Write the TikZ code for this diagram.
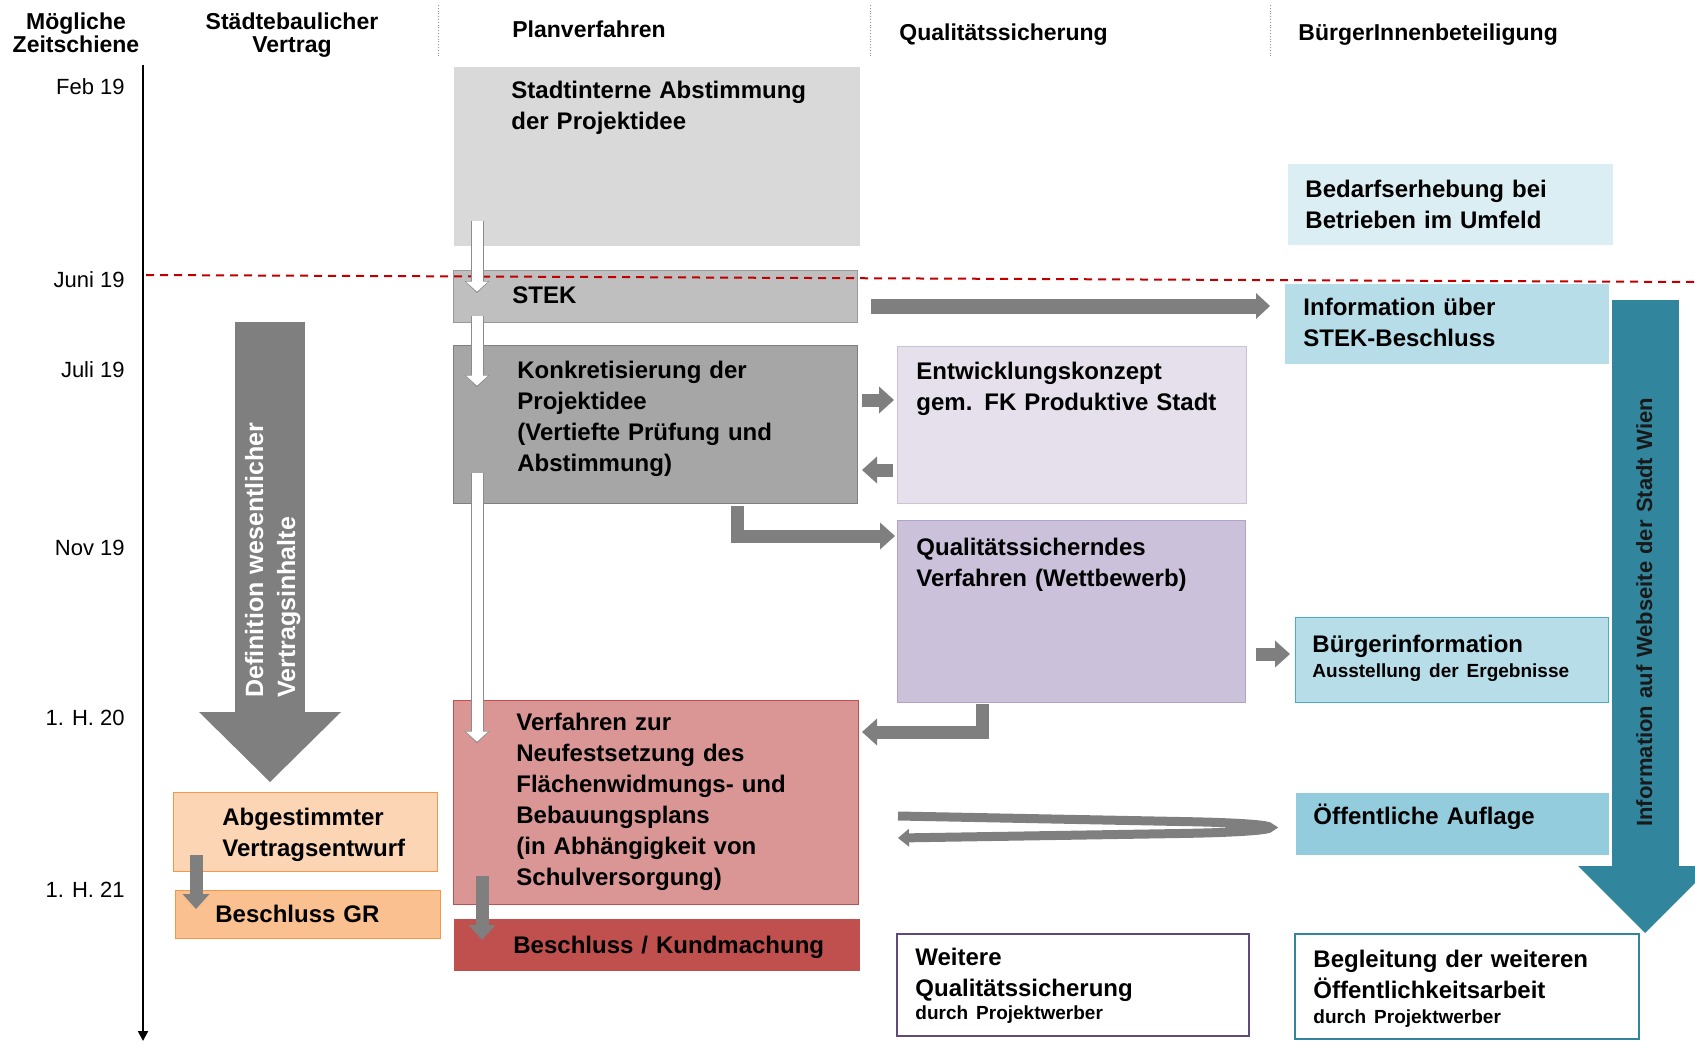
\documentclass[tikz,border=0pt]{standalone}
\usepackage{fontspec}
\setmainfont{Liberation Sans}
\usetikzlibrary{arrows.meta}

\definecolor{cStadt}{HTML}{D9D9D9}
\definecolor{cStek}{HTML}{BFBFBF}
\definecolor{cKonk}{HTML}{A6A6A6}
\definecolor{cEntw}{HTML}{E6E0EC}
\definecolor{cQual}{HTML}{CCC1DA}
\definecolor{cQualRand}{HTML}{B3A2C7}
\definecolor{cVerf}{HTML}{D99694}
\definecolor{cKund}{HTML}{C0504D}
\definecolor{cAbg}{HTML}{FCD5B5}
\definecolor{cGR}{HTML}{FAC090}
\definecolor{cOrange}{HTML}{F79646}
\definecolor{cBedarf}{HTML}{DBEEF4}
\definecolor{cInfo}{HTML}{B7DEE8}
\definecolor{cOeff}{HTML}{93CDDD}
\definecolor{cTeal}{HTML}{31859C}
\definecolor{cHell}{HTML}{4BACC6}
\definecolor{cLila}{HTML}{604A7B}
\definecolor{cPfeil}{HTML}{7F7F7F}
\definecolor{cRot}{HTML}{C00000}

\newcommand{\klein}{\fontsize{9.5}{11}\selectfont}

\tikzset{
  box/.style={anchor=north west, inner sep=0pt, line width=0.5pt},
  txt/.style={anchor=base west, inner sep=0pt, text width=9cm, align=left,
    font=\bfseries\fontsize{12}{15.5}\selectfont},
  kopf/.style={anchor=base, inner sep=0pt, text width=4cm, align=center,
    font=\bfseries\fontsize{11.5}{11.5}\selectfont},
  kopfl/.style={anchor=base west, inner sep=0pt, font=\bfseries\fontsize{11.5}{13}\selectfont},
  zeit/.style={anchor=base east, inner sep=0pt, font=\fontsize{11}{13}\selectfont},
  trenn/.style={draw=black!45, line width=0.4pt, densely dotted},
  achse/.style={draw=black, line width=1pt, -{Triangle[width=5pt,length=5pt]}},
  juni/.style={draw=cRot, line width=1pt, dash pattern=on 4pt off 3pt},
  pfeil/.style={draw=cPfeil, line width=6.5pt, -{Triangle[width=13.5pt,length=7.5pt,line width=0pt]}},
  pfeilb/.style={draw=cPfeil, line width=7.5pt, -{Triangle[width=13pt,length=7pt,line width=0pt]}},
  wpfeil/.style={draw=white, line width=5.5pt, shorten >=0.7pt,
    -{Triangle[width=11pt,length=5pt,line width=0pt]},
    preaction={draw=black!45, line width=6.5pt, shorten >=0pt,
      -{Triangle[width=12.5pt,length=6pt,line width=0pt]}}},
  schleife/.style={draw=cPfeil, line width=4.5pt, -{Triangle[width=9pt,length=5.5pt,line width=0pt]}},
  grosspfeil/.style={draw=cPfeil, line width=35pt, -{Triangle[width=71pt,length=35pt,line width=0pt]}},
  webpfeil/.style={draw=cTeal, line width=33.5pt, -{Triangle[width=67pt,length=33.5pt,line width=0pt]}},
  quertext/.style={rotate=90, anchor=base west, inner sep=0pt, text width=8cm, align=left},
}

\begin{document}
\begin{tikzpicture}[x=0.5pt,y=-0.5pt]
\useasboundingbox (0,0) rectangle (1695,1043);

% Kopfzeile
\node[kopf]  at (76,30)   (h1) {Mögliche\\Zeitschiene};
\node[kopf]  at (292,30)  (h2) {Städtebaulicher\\Vertrag};
\node[kopfl] at (512,38)  (h3) {Planverfahren};
\node[kopfl] at (899,41)  (h4) {Qualitätssicherung};
\node[kopfl] at (1298,41) (h5) {BürgerInnenbeteiligung};
\draw[trenn] (438,5) -- (438,57);
\draw[trenn] (870,5) -- (870,57);
\draw[trenn] (1270,5) -- (1270,57);

% Zeitschiene
\coordinate (ztop) at (143,65);
\coordinate (zbot) at (143,1041);
\draw[achse] (ztop) -- (zbot);
\node[zeit] at (125,95)  (t1) {Feb 19};
\node[zeit] at (125,287) (t2) {Juni 19};
\node[zeit] at (125,377) (t3) {Juli 19};
\node[zeit] at (125,555) (t4) {Nov 19};
\node[zeit] at (125,725) (t5) {1. H. 20};
\node[zeit] at (125,897) (t6) {1. H. 21};

% Kaesten
\node[box, fill=cStadt, minimum width=203pt, minimum height=89pt] at (453,67) (stadt) {};
\node[box, fill=cStek, draw=black!40, minimum width=202pt, minimum height=26pt] at (453,270) (stek) {};
\node[box, fill=cKonk, draw=black!50, minimum width=202pt, minimum height=79pt] at (453,345) (konk) {};
\node[box, fill=cEntw, draw=cQual, minimum width=174.5pt, minimum height=78.5pt] at (897,346) (entw) {};
\node[box, fill=cQual, draw=cQualRand, minimum width=174pt, minimum height=91pt] at (897,520) (qual) {};
\node[box, fill=cVerf, draw=cKund, minimum width=202.5pt, minimum height=102pt] at (453,700) (verf) {};
\node[box, fill=cKund, draw=cKund, minimum width=202.5pt, minimum height=25.5pt] at (454,919) (kund) {};
\node[box, fill=cAbg, draw=cOrange, minimum width=132pt, minimum height=39.5pt] at (173,792) (abg) {};
\node[box, fill=cGR, draw=cOrange, minimum width=132.5pt, minimum height=24pt] at (175,890) (gr) {};
\node[box, draw=cLila, line width=1pt, minimum width=176pt, minimum height=51pt] at (896,933) (weit) {};
\node[box, fill=cBedarf, minimum width=162.5pt, minimum height=40pt] at (1287,164) (bedarf) {};
\node[box, fill=cInfo, minimum width=162pt, minimum height=40pt] at (1284,283) (info) {};
\node[box, fill=cInfo, draw=cHell, minimum width=156.5pt, minimum height=42.5pt] at (1295,617) (burg) {};
\node[box, fill=cOeff, minimum width=156.5pt, minimum height=31pt] at (1295,792) (oeff) {};
\node[box, draw=cTeal, line width=1pt, minimum width=172pt, minimum height=52.5pt] at (1294,933) (begl) {};

% Juni-Linie
\coordinate (jl) at (146,275);
\coordinate (jr) at (1695,282);
\draw[juni] (jl) -- (jr);

% grosse Pfeile
\coordinate (def-s) at (270,322);
\draw[grosspfeil, shorten >=5pt] (def-s) -- (def-s |- abg.north);
\node[quertext, text=white, font=\bfseries\fontsize{12.5}{16}\selectfont] at (263,698) (def-t) {Definition wesentlicher\\Vertragsinhalte};
\coordinate (web-s) at (1645,300);
\draw[webpfeil] (web-s) -- (web-s |- begl.north);
\node[quertext, text=black!90, font=\bfseries\fontsize{11}{13}\selectfont] at (1652,827) (web-t) {Information auf Webseite der Stadt Wien};

% Pfeile Planverfahren
\draw[wpfeil] ([shift={(24,-25)}]stadt.south west) -- ([shift={(24,23)}]stek.north west);
\draw[wpfeil] ([shift={(24,-7)}]stek.south west) -- ([shift={(24,42)}]konk.north west);
\draw[wpfeil] ([shift={(24,-31)}]konk.south west) -- ([shift={(24,43)}]verf.north west);
\draw[pfeil] ([shift={(29,-29)}]verf.south west) -- ([shift={(28,21)}]kund.north west);
\draw[pfeil] ([shift={(23,-17)}]abg.south west) -- ([shift={(21,19)}]gr.north west);

% Querverbindungen
\draw[pfeilb] ([shift={(13,36)}]stek.north east) -- ([shift={(-14,23)}]info.north west);
\draw[pfeil] ([shift={(4,55)}]konk.north east) -- ([shift={(-3,54)}]entw.north west);
\draw[pfeil] ([shift={(-4,124)}]entw.north west) -- ([shift={(4,125)}]konk.north east);
\draw[pfeil] ([shift={(284,2)}]konk.south west) |- ([shift={(-2,16)}]qual.north west);
\draw[pfeil] ([shift={(85,1)}]qual.south west) |- ([shift={(3,32)}]verf.north east);
\draw[pfeil] ([shift={(10,134)}]qual.north east) -- ([shift={(-5,37)}]burg.north west);
\draw[schleife] ([shift={(39,116)}]verf.north east) -- ([shift={(-115,-2)}]oeff.west)
  .. controls ([shift={(5,0)}]oeff.west) and ([shift={(5,8)}]oeff.west) .. ([shift={(-115,10)}]oeff.west)
  -- ([shift={(39,138)}]verf.north east);

% Texte
\node[txt] at ([shift={(58,32)}]stadt.north west) (stadt-t) {Stadtinterne Abstimmung\\der Projektidee};
\node[txt] at ([shift={(59,33)}]stek.north west) (stek-t) {STEK};
\node[txt] at ([shift={(64,33)}]konk.north west) (konk-t) {Konkretisierung der\\Projektidee\\(Vertiefte Prüfung und\\Abstimmung)};
\node[txt] at ([shift={(19,33)}]entw.north west) (entw-t) {Entwicklungskonzept\\gem. FK Produktive Stadt};
\node[txt] at ([shift={(19,35)}]qual.north west) (qual-t) {Qualitätssicherndes\\Verfahren (Wettbewerb)};
\node[txt] at ([shift={(63,30)}]verf.north west) (verf-t) {Verfahren zur\\Neufestsetzung des\\Flächenwidmungs- und\\Bebauungsplans\\(in Abhängigkeit von\\Schulversorgung)};
\node[txt] at ([shift={(59,34)}]kund.north west) (kund-t) {Beschluss / Kundmachung};
\node[txt] at ([shift={(49,33)}]abg.north west) (abg-t) {Abgestimmter\\Vertragsentwurf};
\node[txt] at ([shift={(40,32)}]gr.north west) (gr-t) {Beschluss GR};
\node[txt] at ([shift={(19,32)}]weit.north west) (weit-t) {Weitere\\Qualitätssicherung\\[-4pt]{\klein durch Projektwerber}};
\node[txt] at ([shift={(18,34)}]bedarf.north west) (bedarf-t) {Bedarfserhebung bei\\Betrieben im Umfeld};
\node[txt] at ([shift={(19,32)}]info.north west) (info-t) {Information über\\STEK-Beschluss};
\node[txt] at ([shift={(17,35)}]burg.north west) (burg-t) {Bürgerinformation\\[-3pt]{\klein Ausstellung der Ergebnisse}};
\node[txt] at ([shift={(18,32)}]oeff.north west) (oeff-t) {Öffentliche Auflage};
\node[txt] at ([shift={(19,34)}]begl.north west) (begl-t) {Begleitung der weiteren\\Öffentlichkeitsarbeit\\[-3pt]{\klein durch Projektwerber}};
\end{tikzpicture}
\end{document}
